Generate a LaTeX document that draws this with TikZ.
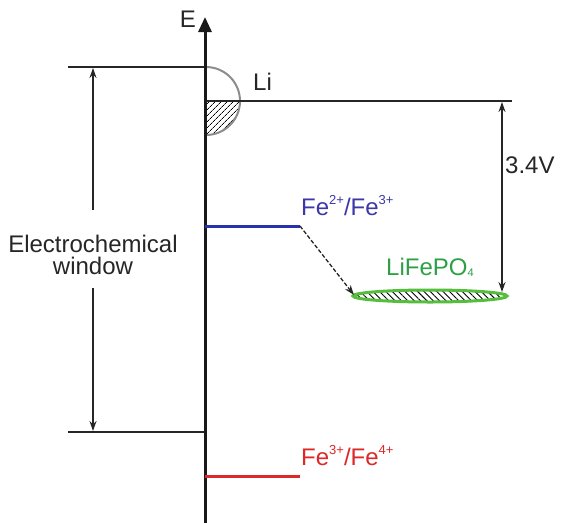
\documentclass[tikz,border=0pt]{standalone}
\usepackage{fontspec}
\setmainfont{Liberation Sans}
\usetikzlibrary{arrows.meta,patterns.meta}
\definecolor{feblue}{RGB}{60,55,170}
\definecolor{lineblue}{RGB}{40,50,175}
\definecolor{fegreen}{RGB}{45,160,70}
\definecolor{elgreen}{RGB}{85,190,60}
\definecolor{fered}{RGB}{220,40,40}
\definecolor{ligray}{RGB}{140,140,140}
\newcommand{\mysup}[1]{\raisebox{0.45em}{\fontsize{13}{13}\selectfont #1}}
\newcommand{\mysub}[1]{\raisebox{-0.05em}{\fontsize{11}{11}\selectfont #1}}
\begin{document}
\begin{tikzpicture}[x=1pt,y=-1pt,
  lbl/.style={font=\fontsize{24}{22}\selectfont, inner sep=0pt, text=black!85},
  thinln/.style={line width=1.3pt, black!85},
  tip/.style={-{Stealth[length=10pt,width=7pt]}},
  lvl/.style={line width=3pt}]
\useasboundingbox (0,0) rectangle (566,523);
% Li half circle
\coordinate (lic) at (206,101);
\fill[pattern={Lines[angle=45,distance=4pt,line width=0.8pt]}] (lic) -- ++(34,0) arc[start angle=0,end angle=90,radius=34] -- cycle;
\draw[ligray, line width=2pt] (206,67) arc[start angle=-90,end angle=90,radius=34];
% horizontal reference lines
\coordinate (wtopL) at (68,67);
\coordinate (wtopR) at (205,67);
\coordinate (libL) at (205,101);
\coordinate (libR) at (512,101);
\coordinate (wbotL) at (68,432);
\coordinate (wbotR) at (205,432);
\draw[thinln] (wtopL) -- (wtopR);
\draw[thinln] (libL) -- (libR);
\draw[thinln] (wbotL) -- (wbotR);
% axis
\coordinate (axb) at (205,523);
\coordinate (axt) at (205,17);
\draw[line width=3pt, black!90, -{Triangle[length=15pt,width=13pt]}] (axb) -- (axt);
\node[lbl, anchor=base] (E) at (188,27) {E};
\node[lbl, anchor=base west] (Li) at (253,90) {Li};
% electrochemical window
\node[lbl, align=center] (ew) at (93,255) {Electrochemical\\window};
\coordinate (ewt) at (93,210);
\coordinate (ewb) at (93,288);
\coordinate (ewtop) at (93,68);
\coordinate (ewbot) at (93,431);
\draw[thinln, tip] (ewt) -- (ewtop);
\draw[thinln, tip] (ewb) -- (ewbot);
% Fe2+/Fe3+
\coordinate (b1) at (205,226);
\coordinate (b2) at (300,226);
\draw[lvl, lineblue] (b1) -- (b2);
\node[lbl, anchor=base west, text=feblue] (fe23) at (301,215) {Fe\mysup{2+}/Fe\mysup{3+}};
% LiFePO4 ellipse
\coordinate (elc) at (430,296);
\fill[pattern={Lines[angle=-45,distance=4.5pt,line width=0.9pt]}] (elc) ellipse[x radius=77, y radius=6];
\draw[elgreen, line width=3pt] (elc) ellipse[x radius=77, y radius=6];
\node[lbl, anchor=base west, text=fegreen] (lfp) at (386,275) {LiFePO\mysub{4}};
\coordinate (elw) at (354,295);
\draw[thinln, dash pattern=on 4pt off 2pt, tip] (b2) -- (elw);
% 3.4 V
\coordinate (v1) at (502,102);
\coordinate (v2) at (502,292);
\draw[thinln, {Stealth[length=10pt,width=7pt]}-{Stealth[length=10pt,width=7pt]}] (v1) -- (v2);
\node[lbl, anchor=base west] (v) at (505,173) {3.4V};
% Fe3+/Fe4+
\coordinate (r1) at (205,476);
\coordinate (r2) at (300,476);
\draw[lvl, fered] (r1) -- (r2);
\node[lbl, anchor=base west, text=fered] (fe34) at (301,465) {Fe\mysup{3+}/Fe\mysup{4+}};
\end{tikzpicture}
\end{document}
